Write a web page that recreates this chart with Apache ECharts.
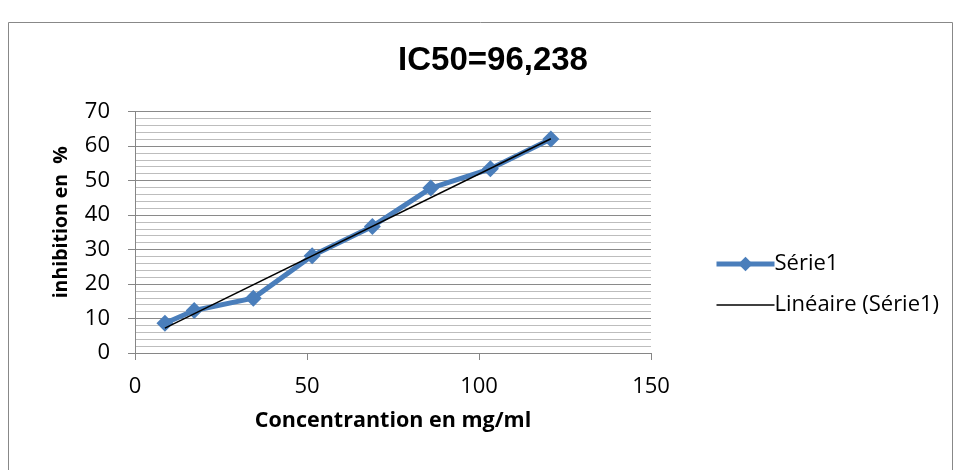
<!DOCTYPE html>
<html>
<head>
<meta charset="utf-8">
<script src="https://cdn.jsdelivr.net/npm/echarts@6/dist/echarts.min.js"></script>
<style>html,body{margin:0;padding:0;background:#fff}#c{width:960px;height:470px}</style>
</head>
<body>
<div id="c"></div>
<script>
var concentrations = [8.7, 17.2, 34.4, 51.5, 69.0, 86.0, 103.3, 120.9];
var inhibition = [8.6, 12.3, 15.9, 28.2, 36.7, 47.8, 53.4, 62.0];
var trendX = [8.7, 120.9];
var trendY = [7.2, 62.1];
var xTicks = [0, 50, 100, 150];
var yTicks = [0, 10, 20, 30, 40, 50, 60, 70];

var FONT = "'Liberation Sans', sans-serif";
var FONT2 = "'Open Sans', sans-serif";

var chart = echarts.init(document.getElementById('c'));
chart.setOption({
  animation: false,
  backgroundColor: '#fff',
  graphic: [{
    type: 'rect', shape: {x: 8.5, y: 22.5, width: 944, height: 470},
    style: {fill: 'none', stroke: '#888', lineWidth: 1}, silent: true, z: -10
  }],
  title: {
    text: 'IC50=96,238', left: 488, top: 39, textAlign: 'center',
    textStyle: {fontFamily: FONT, fontWeight: 'bold', fontSize: 33, color: '#000'}
  },
  legend: {
    orient: 'vertical', left: 709, top: 248, itemWidth: 58, itemHeight: 18, itemGap: 19,
    textStyle: {fontFamily: FONT2, fontSize: 22, color: '#000', padding: [0,0,0,-5]},
    data: [
      {name: 'Série1', lineStyle: {width: 5}},
      {name: 'Linéaire (Série1)', itemStyle: {opacity: 0}, lineStyle: {width: 1.5}}
    ]
  },
  grid: {left: 135, right: 309, top: 111.5, bottom: 117, containLabel: false},
  xAxis: {
    type: 'value', min: xTicks[0], max: xTicks[xTicks.length-1], interval: 50,
    name: 'Concentrantion en mg/ml', nameLocation: 'middle', nameGap: 57,
    nameTextStyle: {fontFamily: FONT2, fontWeight: 'bold', fontSize: 21.5, color: '#000'},
    axisLine: {lineStyle: {color: '#868686', width: 1}},
    axisTick: {show: true, length: 7, inside: false, lineStyle: {color: '#868686'}},
    axisLabel: {fontFamily: FONT2, fontSize: 22, color: '#000', margin: 23},
    splitLine: {show: false}
  },
  yAxis: {
    type: 'value', min: yTicks[0], max: yTicks[yTicks.length-1], interval: 10,
    name: 'inhibition en  %', nameLocation: 'middle', nameGap: 64, nameRotate: 90,
    nameTextStyle: {fontFamily: FONT2, fontWeight: 'bold', fontSize: 19.5, color: '#000', padding: [0, 0, 0, 20]},
    axisLine: {show: true, lineStyle: {color: '#868686', width: 1}},
    axisTick: {show: true, length: 7, inside: false, lineStyle: {color: '#868686'}},
    axisLabel: {fontFamily: FONT2, fontSize: 22, color: '#000', margin: 25},
    splitLine: {show: true, lineStyle: {color: '#8a8a8a', width: 1.2}},
    minorTick: {show: false, splitNumber: 5},
    minorSplitLine: {show: true, lineStyle: {color: '#bdbdbd', width: 1.2}}
  },
  series: [{
    name: 'Série1', type: 'line',
    data: concentrations.map(function (c, i) { return [c, inhibition[i]]; }),
    symbol: 'diamond', symbolSize: 17,
    lineStyle: {color: '#4a7ebb', width: 5},
    itemStyle: {color: '#4a7ebb'}, z: 2
  }, {
    name: 'Linéaire (Série1)', type: 'line',
    data: trendX.map(function (c, i) { return [c, trendY[i]]; }),
    symbol: 'none', lineStyle: {color: '#000', width: 1.5},
    itemStyle: {color: '#000'}, z: 3
  }]
});
</script>
</body>
</html>
